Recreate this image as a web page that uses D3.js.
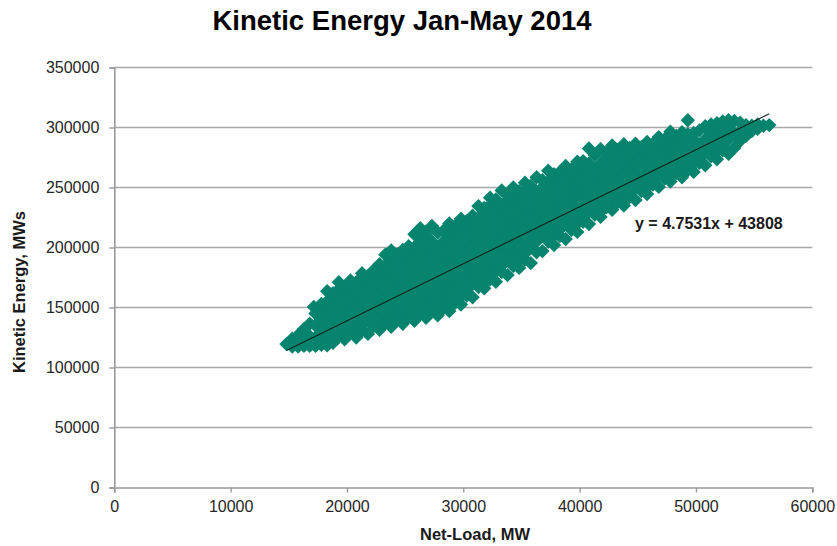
<!DOCTYPE html>
<html>
<head>
<meta charset="utf-8">
<script src="https://cdn.jsdelivr.net/npm/d3@7/dist/d3.min.js"></script>
<style>
  html, body { margin: 0; padding: 0; background: #ffffff; }
  svg { display: block; }
  text { font-family: "Liberation Sans", Arial, sans-serif; }
</style>
</head>
<body>
<svg id="chart" width="837" height="546"></svg>
<script>
// ---------- data ----------
const chartTitle = "Kinetic Energy Jan-May 2014";
const xAxisTitle = "Net-Load, MW";
const yAxisTitle = "Kinetic Energy, MWs";
const xTickValues = [0, 10000, 20000, 30000, 40000, 50000, 60000];
const yTickValues = [0, 50000, 100000, 150000, 200000, 250000, 300000, 350000];
const trendSlope = 4.7531;
const trendIntercept = 43808;
const trendLabel = "y = 4.7531x + 43808";

// [net-load MW, kinetic energy MWs]
const scatterPoints = [
[14800,119500],
[15300,117500],[15300,124000],
[15800,117500],[15800,122000],[15800,127000],
[16300,118000],[16300,125000],[16300,132000],
[16800,118000],[16800,126000],[16800,136500],
[17150,150500],
[17300,118000],[17300,125000],[17300,135000],[17300,145000],
[17800,119000],[17800,130000],[17800,140000],[17800,150000],[17800,153000],
[18300,118500],[18300,125000],[18300,135000],[18300,145000],[18300,155000],[18300,163500],
[18800,120500],[18800,130000],[18800,140000],[18800,150000],[18800,160000],[18800,162000],
[19300,126000],[19300,135000],[19300,145000],[19300,155000],[19300,165000],[19300,171000],
[19800,123500],[19800,130000],[19800,140000],[19800,150000],[19800,160000],[19800,166000],
[20300,128500],[20300,135000],[20300,145000],[20300,155000],[20300,165000],[20300,172500],
[20800,125000],[20800,130000],[20800,140000],[20800,150000],[20800,160000],[20800,171000],
[21300,131000],[21300,135000],[21300,145000],[21300,155000],[21300,165000],[21300,175000],[21300,178500],
[21800,128000],[21800,140000],[21800,150000],[21800,160000],[21800,170000],[21800,176000],
[22300,134500],[22300,145000],[22300,155000],[22300,165000],[22300,175000],[22300,181000],
[22800,131500],[22800,140000],[22800,150000],[22800,160000],[22800,170000],[22800,180000],[22800,186000],
[23300,137000],[23300,145000],[23300,155000],[23300,165000],[23300,175000],[23300,185000],[23300,194000],
[23800,134000],[23800,140000],[23800,150000],[23800,160000],[23800,170000],[23800,180000],[23800,190000],[23800,197500],
[24300,140000],[24300,145000],[24300,155000],[24300,165000],[24300,175000],[24300,185000],[24300,194000],
[24800,136500],[24800,145000],[24800,150000],[24800,160000],[24800,170000],[24800,180000],[24800,190000],[24800,198000],
[25300,142500],[25300,145000],[25300,155000],[25300,165000],[25300,175000],[25300,185000],[25300,195000],[25300,201000],
[25800,139000],[25800,150000],[25800,160000],[25800,170000],[25800,180000],[25800,190000],[25800,200000],[25800,211000],
[26300,145000],[26300,155000],[26300,165000],[26300,175000],[26300,185000],[26300,195000],[26300,205000],[26300,216000],
[26800,141500],[26800,150000],[26800,160000],[26800,170000],[26800,180000],[26800,190000],[26800,200000],[26800,210000],[26800,213000],
[27300,147000],[27300,155000],[27300,165000],[27300,175000],[27300,185000],[27300,195000],[27300,205000],[27300,218000],
[27800,143500],[27800,150000],[27800,160000],[27800,170000],[27800,180000],[27800,190000],[27800,200000],[27800,212500],
[28300,149500],[28300,155000],[28300,165000],[28300,175000],[28300,185000],[28300,195000],[28300,205000],[28300,214000],
[28800,147000],[28800,155000],[28800,160000],[28800,170000],[28800,180000],[28800,190000],[28800,200000],[28800,210000],[28800,220000],
[29300,154000],[29300,165000],[29300,175000],[29300,185000],[29300,195000],[29300,205000],[29300,215000],[29300,218000],
[29800,152500],[29800,160000],[29800,170000],[29800,180000],[29800,190000],[29800,200000],[29800,210000],[29800,220000],[29800,224000],
[30300,160000],[30300,165000],[30300,175000],[30300,185000],[30300,195000],[30300,205000],[30300,215000],[30300,222000],
[30800,158500],[30800,170000],[30800,180000],[30800,190000],[30800,200000],[30800,210000],[30800,220000],[30800,226500],
[31300,167000],[31300,175000],[31300,185000],[31300,195000],[31300,205000],[31300,215000],[31300,225000],[31300,234500],
[31800,166000],[31800,170000],[31800,180000],[31800,190000],[31800,200000],[31800,210000],[31800,220000],[31800,230000],[31800,233000],
[32300,173500],[32300,185000],[32300,195000],[32300,205000],[32300,215000],[32300,225000],[32300,235000],[32300,241500],
[32800,171500],[32800,180000],[32800,190000],[32800,200000],[32800,210000],[32800,220000],[32800,230000],[32800,240000],
[33300,179500],[33300,185000],[33300,195000],[33300,205000],[33300,215000],[33300,225000],[33300,235000],[33300,247500],
[33800,177000],[33800,190000],[33800,200000],[33800,210000],[33800,220000],[33800,230000],[33800,240000],[33800,244000],
[34300,184500],[34300,195000],[34300,205000],[34300,215000],[34300,225000],[34300,235000],[34300,245000],[34300,250000],
[34800,183000],[34800,190000],[34800,200000],[34800,210000],[34800,220000],[34800,230000],[34800,240000],[34800,247000],
[35300,190000],[35300,195000],[35300,205000],[35300,215000],[35300,225000],[35300,235000],[35300,245000],[35300,254000],
[35800,187000],[35800,200000],[35800,210000],[35800,220000],[35800,230000],[35800,240000],[35800,251500],
[36300,196000],[36300,205000],[36300,215000],[36300,225000],[36300,235000],[36300,245000],[36300,258500],
[36800,197000],[36800,210000],[36800,220000],[36800,230000],[36800,240000],[36800,250000],[36800,256000],
[37300,205000],[37300,215000],[37300,225000],[37300,235000],[37300,245000],[37300,255000],[37300,264000],
[37800,202000],[37800,210000],[37800,220000],[37800,230000],[37800,240000],[37800,250000],[37800,261000],
[38300,209500],[38300,215000],[38300,225000],[38300,235000],[38300,245000],[38300,255000],[38300,263000],
[38800,207000],[38800,220000],[38800,230000],[38800,240000],[38800,250000],[38800,260000],[38800,268000],
[39300,214500],[39300,225000],[39300,235000],[39300,245000],[39300,255000],[39300,265000],
[39800,213000],[39800,220000],[39800,230000],[39800,240000],[39800,250000],[39800,260000],[39800,271500],
[40300,221500],[40300,225000],[40300,235000],[40300,245000],[40300,255000],[40300,265000],[40300,272000],
[40800,219500],[40800,230000],[40800,240000],[40800,250000],[40800,260000],[40800,270000],[40800,282500],
[41300,227500],[41300,235000],[41300,245000],[41300,255000],[41300,265000],[41300,277000],
[41800,225500],[41800,230000],[41800,240000],[41800,250000],[41800,260000],[41800,270000],[41800,282000],
[42300,233500],[42300,245000],[42300,255000],[42300,265000],[42300,275000],[42300,279000],
[42800,231500],[42800,240000],[42800,250000],[42800,260000],[42800,270000],[42800,280000],[42800,285000],
[43300,238000],[43300,245000],[43300,255000],[43300,265000],[43300,275000],[43300,281500],
[43800,235000],[43800,240000],[43800,250000],[43800,260000],[43800,270000],[43800,280000],[43800,286000],
[44300,242000],[44300,245000],[44300,255000],[44300,265000],[44300,275000],[44300,283000],
[44800,239500],[44800,250000],[44800,260000],[44800,270000],[44800,280000],[44800,286500],
[45300,247000],[45300,255000],[45300,265000],[45300,275000],[45300,283500],
[45800,244500],[45800,250000],[45800,260000],[45800,270000],[45800,280000],[45800,288000],
[46300,252500],[46300,255000],[46300,265000],[46300,275000],[46300,286500],
[46800,250500],[46800,260000],[46800,270000],[46800,280000],[46800,292000],
[47300,257500],[47300,265000],[47300,275000],[47300,285000],[47300,290000],
[47800,255000],[47800,260000],[47800,270000],[47800,280000],[47800,290000],[47800,296500],
[48300,262000],[48300,265000],[48300,275000],[48300,285000],[48300,293000],
[48800,258500],[48800,270000],[48800,280000],[48800,290000],[48800,296000],
[49300,264500],[49300,275000],[49300,285000],[49300,294500],[49300,306000],
[49800,263000],[49800,270000],[49800,280000],[49800,290000],[49800,295500],
[50300,270500],[50300,275000],[50300,285000],[50300,297500],
[50800,268500],[50800,280000],[50800,290000],[50800,301000],
[51300,276000],[51300,285000],[51300,295000],[51300,302500],
[51800,273500],[51800,280000],[51800,290000],[51800,300000],[51800,303500],
[52300,281000],[52300,285000],[52300,295000],[52300,305000],
[52800,278000],[52800,290000],[52800,300000],[52800,306000],
[53300,283000],[53300,295000],[53300,305500],
[53800,289000],[53800,297000],[53800,304000],
[54300,293000],[54300,302000],
[54800,297000],[54800,301500],
[55300,299000],[55300,302500],
[55800,301500],
[56300,302000]
];

// ---------- layout ----------
const svg = d3.select("#chart");
const plotLeft = 114.3, plotRight = 812.3, plotTop = 67.5, plotBottom = 487.5;

const x = d3.scaleLinear().domain([0, 60000]).range([plotLeft, plotRight]);
const y = d3.scaleLinear().domain([0, 350000]).range([plotBottom, plotTop]);

const gridColor = "#a9a9a9";
const axisColor = "#9a9a9a";
const markColor = "#06846e";
const labelColor = "#262626";

// gridlines
svg.append("g")
  .selectAll("line")
  .data(yTickValues.filter(v => v > 0))
  .join("line")
  .attr("x1", x(0)).attr("x2", x(60000))
  .attr("y1", d => y(d)).attr("y2", d => y(d))
  .attr("stroke", gridColor).attr("stroke-width", 1.6);

// y axis
const yAxis = d3.axisLeft(y).tickValues(yTickValues).tickSize(5).tickPadding(10)
  .tickFormat(d3.format("d"));
const gy = svg.append("g").attr("transform", `translate(${x(0)},0)`).call(yAxis);
gy.select(".domain").attr("stroke", axisColor).attr("stroke-width", 1.6);
gy.selectAll(".tick line").attr("stroke", axisColor).attr("stroke-width", 1.4);
gy.selectAll(".tick text")
  .attr("font-family", "'Liberation Sans', Arial, sans-serif")
  .attr("font-size", 16).attr("fill", labelColor);

// x axis
const xAxis = d3.axisBottom(x).tickValues(xTickValues).tickSize(5).tickPadding(8)
  .tickFormat(d3.format("d"));
const gx = svg.append("g").attr("transform", `translate(0,${y(0)})`).call(xAxis);
gx.select(".domain").attr("stroke", axisColor).attr("stroke-width", 1.6);
gx.selectAll(".tick line").attr("stroke", axisColor).attr("stroke-width", 1.4);
gx.selectAll(".tick text")
  .attr("font-family", "'Liberation Sans', Arial, sans-serif")
  .attr("font-size", 16).attr("fill", labelColor);

// scatter diamonds
const r = 7.2;
const diamond = `M0,${-r}L${r},0L0,${r}L${-r},0Z`;
svg.append("g")
  .selectAll("path")
  .data(scatterPoints)
  .join("path")
  .attr("d", diamond)
  .attr("transform", d => `translate(${x(d[0])},${y(d[1])})`)
  .attr("fill", markColor);

// linear trendline over the data range
const xExtent = d3.extent(scatterPoints, d => d[0]);
const trend = xExtent.map(v => [v, trendSlope * v + trendIntercept]);
svg.append("path")
  .datum(trend)
  .attr("d", d3.line().x(d => x(d[0])).y(d => y(d[1])))
  .attr("fill", "none")
  .attr("stroke", "#13241f")
  .attr("stroke-width", 1.1);

// equation label
svg.append("text")
  .attr("x", 635).attr("y", 229)
  .attr("font-size", 16).attr("font-weight", "bold").attr("fill", "#1a1a1a")
  .text(trendLabel);

// titles
svg.append("text")
  .attr("x", 402).attr("y", 30)
  .attr("text-anchor", "middle")
  .attr("font-size", 27.5).attr("font-weight", "bold").attr("fill", "#000")
  .text(chartTitle);

svg.append("text")
  .attr("x", 475).attr("y", 540)
  .attr("text-anchor", "middle")
  .attr("font-size", 16.5).attr("font-weight", "bold").attr("fill", "#1a1a1a")
  .text(xAxisTitle);

svg.append("text")
  .attr("transform", "translate(25,292) rotate(-90)")
  .attr("text-anchor", "middle")
  .attr("font-size", 16.5).attr("font-weight", "bold").attr("fill", "#1a1a1a")
  .text(yAxisTitle);
</script>
</body>
</html>
